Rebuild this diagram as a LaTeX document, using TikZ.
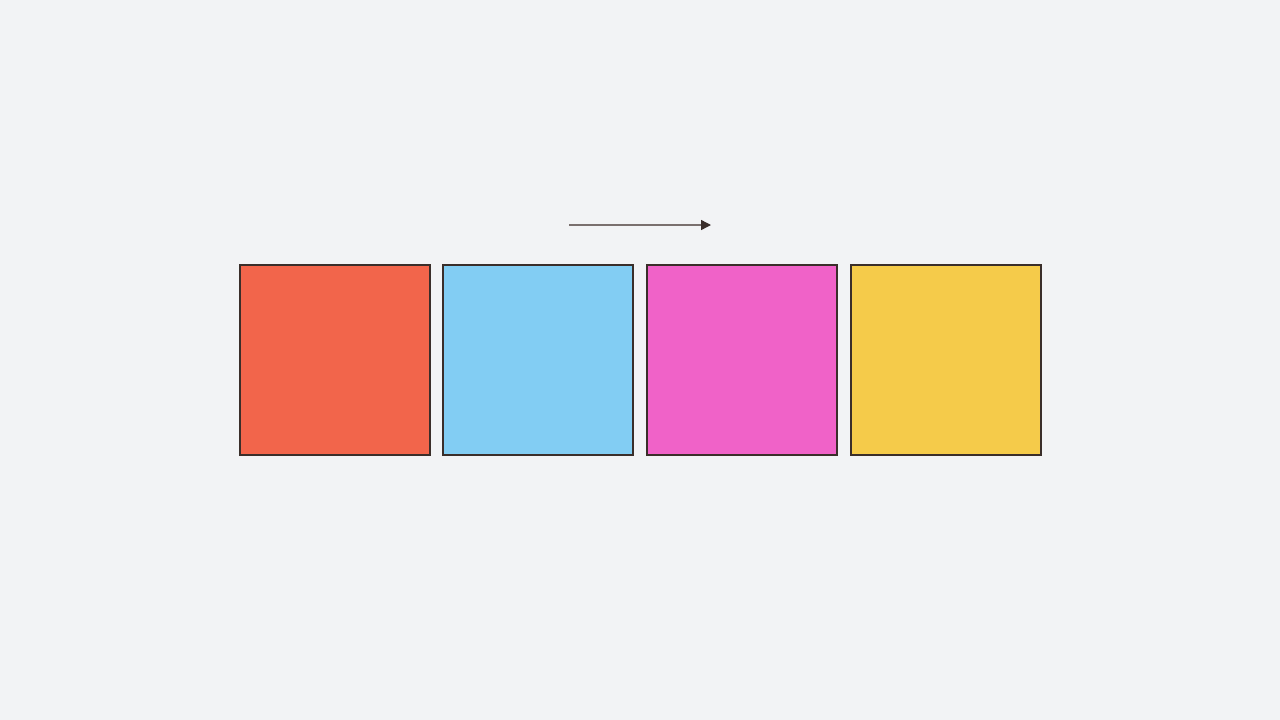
\documentclass[tikz,border=0pt]{standalone}
\usetikzlibrary{arrows.meta}
\definecolor{bg}{HTML}{F2F3F5}
\definecolor{edge}{HTML}{3A2E2A}
\definecolor{cred}{HTML}{F2654B}
\definecolor{cblue}{HTML}{82CDF3}
\definecolor{cpink}{HTML}{F062C8}
\definecolor{cyel}{HTML}{F5CB4A}
\definecolor{arr}{HTML}{7A706E}
\tikzset{
  note/.style={draw=edge, line width=2pt, minimum width=190pt, minimum height=190pt, inner sep=0pt, outer sep=0pt, anchor=center},
  flow/.style={draw=arr, line width=1.4pt, -{Triangle[length=10pt,width=10pt,color=edge]}}
}
\begin{document}
\begin{tikzpicture}[x=1pt,y=-1pt]
\fill[bg] (0,0) rectangle (1280,720);
\useasboundingbox (0,0) rectangle (1280,720);
\node[note, fill=cred] (n1) at (335,360) {};
\node[note, fill=cblue] (n2) at (538,360) {};
\node[note, fill=cpink] (n3) at (742,360) {};
\node[note, fill=cyel] (n4) at (946,360) {};
\coordinate (a1) at (569,225);
\coordinate (a2) at (711,225);
\draw[flow] (a1) -- (a2);
\end{tikzpicture}
\end{document}
